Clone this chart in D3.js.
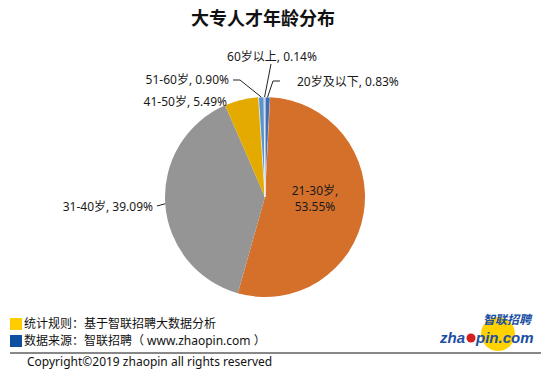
<!DOCTYPE html>
<html>
<head>
<meta charset="utf-8">
<script src="https://cdn.jsdelivr.net/npm/d3@7"></script>
<style>
  html, body { margin: 0; padding: 0; background: #fff; }
  svg { display: block; font-family: "Noto Sans", "Noto Sans CJK SC", sans-serif; }
</style>
</head>
<body>
<svg id="chart" width="554" height="382"></svg>
<script>
// ---- data ----
const title = "大专人才年龄分布";
const categories = ["20岁及以下", "21-30岁", "31-40岁", "41-50岁", "51-60岁", "60岁以上"];
const values = [0.83, 53.55, 39.09, 5.49, 0.90, 0.14];
const valueLabels = ["0.83%", "53.55%", "39.09%", "5.49%", "0.90%", "0.14%"];
const colors = ["#3F6DB8", "#D5702B", "#959595", "#E4AA00", "#5B93CB", "#6E97A8"];
const legendNotes = ["统计规则：基于智联招聘大数据分析", "数据来源：智联招聘（ www.zhaopin.com ）"];
const legendColors = ["#FFCC00", "#0F4FA0"];
const copyright = "Copyright©2019 zhaopin all rights reserved";

// ---- layout (label placement, not data) ----
const cx = 265, cy = 197, R = 100;
const labelLayout = {
  "20岁及以下": { x: 297, y: 86, anchor: "start", leader: [[273, 81], [280, 81]] },
  "21-30岁":   { x: 315, y: 209, anchor: "middle", inside: true },
  "31-40岁":   { x: 153, y: 211, anchor: "end", leader: [[157, 206]] },
  "41-50岁":   { x: 227, y: 106, anchor: "end" },
  "51-60岁":   { x: 229, y: 84, anchor: "end", leader: [[240, 80], [233, 80]] },
  "60岁以上":  { x: 272, y: 61, anchor: "middle", leader: [[271, 64]] }
};

const svg = d3.select("#chart");

// title
svg.append("text")
  .attr("x", 263).attr("y", 25)
  .attr("text-anchor", "middle")
  .attr("font-size", 18).attr("font-weight", "bold")
  .attr("font-family", "'Noto Sans CJK SC', sans-serif")
  .attr("fill", "#111")
  .text(title);

// pie
const data = categories.map((c, i) => ({ cat: c, value: values[i], label: valueLabels[i], color: colors[i] }));
const pie = d3.pie().sort(null).value(d => d.value).startAngle(0).endAngle(2 * Math.PI);
const arcs = pie(data);
const arc = d3.arc().innerRadius(0).outerRadius(R);
const edge = d3.arc().innerRadius(R).outerRadius(R);

const g = svg.append("g").attr("transform", `translate(${cx},${cy})`);
g.selectAll("path.slice").data(arcs).join("path")
  .attr("class", "slice")
  .attr("d", arc)
  .attr("fill", d => d.data.color)
  .attr("stroke", d => d.data.value < 2 ? "#ffffff" : "none")
  .attr("stroke-width", 0.6);

// leader lines
arcs.forEach(a => {
  const L = labelLayout[a.data.cat];
  if (!L.leader) return;
  const p = edge.centroid(a);
  const pts = [[p[0] + cx, p[1] + cy]].concat(L.leader);
  svg.append("path")
    .attr("d", d3.line()(pts))
    .attr("fill", "none")
    .attr("stroke", "#222")
    .attr("stroke-width", 1);
});

// labels
arcs.forEach(a => {
  const L = labelLayout[a.data.cat];
  const t = svg.append("text")
    .attr("x", L.x).attr("y", L.y)
    .attr("text-anchor", L.anchor)
    .attr("font-size", 12)
    .attr("fill", "#1a1a1a");
  if (L.inside) {
    t.attr("y", L.y - 14);
    t.append("tspan").attr("x", L.x).text(a.data.cat + ",");
    t.append("tspan").attr("x", L.x).attr("dy", 16).text(a.data.label);
  } else {
    t.text(a.data.cat + ", " + a.data.label);
  }
});

// legend notes
legendNotes.forEach((n, i) => {
  const y = 318 + i * 17;
  svg.append("rect").attr("x", 10).attr("y", y).attr("width", 12).attr("height", 12).attr("fill", legendColors[i]);
  svg.append("text").attr("x", 24).attr("y", y + 10)
    .attr("font-size", 12).attr("fill", "#111").text(n);
});

// divider
svg.append("line").attr("x1", 10).attr("x2", 541).attr("y1", 353).attr("y2", 353)
  .attr("stroke", "#111").attr("stroke-width", 1);

// copyright
svg.append("text").attr("x", 27).attr("y", 366)
  .attr("font-size", 12).attr("fill", "#111").text(copyright);

// logo
const logo = svg.append("g");
logo.append("circle").attr("cx", 498).attr("cy", 334).attr("r", 17).attr("fill", "#FFD200");
logo.append("text").attr("x", 483).attr("y", 324)
  .attr("font-size", 12).attr("font-weight", "bold").attr("font-style", "italic")
  .attr("font-family", "'Noto Sans CJK SC', sans-serif")
  .attr("fill", "#1B4FA3").text("智联招聘");
logo.append("text").attr("x", 440).attr("y", 343)
  .attr("font-size", 15).attr("font-weight", "bold").attr("font-style", "italic")
  .attr("font-family", "'Liberation Sans', Arial, sans-serif")
  .attr("fill", "#1B4FA3").text("zha");
logo.append("circle").attr("cx", 471).attr("cy", 338).attr("r", 4.5).attr("fill", "#D42020");
logo.append("text").attr("x", 476).attr("y", 343)
  .attr("font-size", 15).attr("font-weight", "bold").attr("font-style", "italic")
  .attr("font-family", "'Liberation Sans', Arial, sans-serif")
  .attr("fill", "#1B4FA3").text("pin.com");
</script>
</body>
</html>
